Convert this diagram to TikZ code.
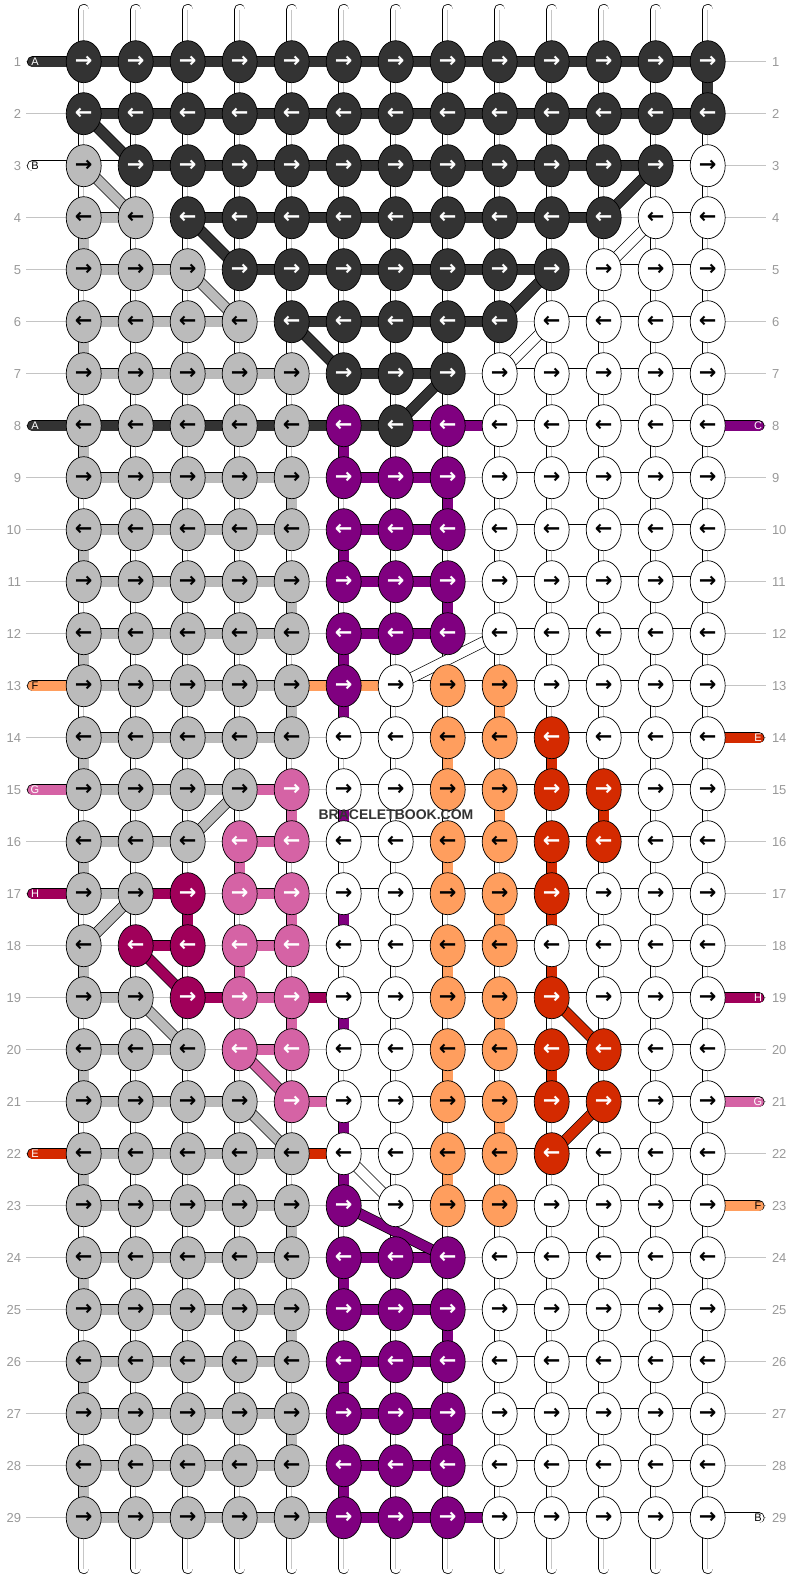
\documentclass[tikz,border=0pt]{standalone}
\usepackage{fontspec}
\setmainfont{Liberation Sans}
\newfontfamily\arrowfont{DejaVu Sans Bold}
\usetikzlibrary{shapes.geometric,backgrounds}

\definecolor{cD}{HTML}{333333}
\definecolor{cG}{HTML}{BBBBBB}
\definecolor{cW}{HTML}{FFFFFF}
\definecolor{cP}{HTML}{800080}
\definecolor{cO}{HTML}{FF9E5E}
\definecolor{cR}{HTML}{D42A00}
\definecolor{cK}{HTML}{D563A5}
\definecolor{cM}{HTML}{A0005A}
\colorlet{tD}{white}
\colorlet{tG}{black}
\colorlet{tW}{black}
\colorlet{tP}{white}
\colorlet{tO}{black}
\colorlet{tR}{white}
\colorlet{tK}{white}
\colorlet{tM}{white}
\definecolor{rowgray}{HTML}{999999}
\definecolor{linegray}{HTML}{C4C4C4}

\begin{document}
\begin{tikzpicture}[x=1pt,y=-1pt,
  knot/.style={ellipse, draw, line width=0.7pt, fill=c#1, text=t#1,
    minimum width=35pt, minimum height=42pt, inner sep=0pt,
    font=\arrowfont\fontsize{21}{21}\selectfont},
  bar/.style={line width=0.7pt, double=c#1, double distance=9.6pt},
  strand/.style={line width=0.7pt, double=white, double distance=9.6pt, line cap=round},
  rowline/.style={draw=linegray, line width=0.8pt},
  rownum/.style={text=rowgray, font=\fontsize{13}{13}\selectfont, inner sep=0pt},
  threadtag/.style={text=t#1, font=\fontsize{11}{11}\selectfont, inner sep=0pt}
]
  \useasboundingbox (0,0) rectangle (792,1580);

  % knots, one row per line
  \foreach \r/\row in {
    1/{D,D,D,D,D,D,D,D,D,D,D,D,D},
    2/{D,D,D,D,D,D,D,D,D,D,D,D,D},
    3/{G,D,D,D,D,D,D,D,D,D,D,D,W},
    4/{G,G,D,D,D,D,D,D,D,D,D,W,W},
    5/{G,G,G,D,D,D,D,D,D,D,W,W,W},
    6/{G,G,G,G,D,D,D,D,D,W,W,W,W},
    7/{G,G,G,G,G,D,D,D,W,W,W,W,W},
    8/{G,G,G,G,G,P,D,P,W,W,W,W,W},
    9/{G,G,G,G,G,P,P,P,W,W,W,W,W},
    10/{G,G,G,G,G,P,P,P,W,W,W,W,W},
    11/{G,G,G,G,G,P,P,P,W,W,W,W,W},
    12/{G,G,G,G,G,P,P,P,W,W,W,W,W},
    13/{G,G,G,G,G,P,W,O,O,W,W,W,W},
    14/{G,G,G,G,G,W,W,O,O,R,W,W,W},
    15/{G,G,G,G,K,W,W,O,O,R,R,W,W},
    16/{G,G,G,K,K,W,W,O,O,R,R,W,W},
    17/{G,G,M,K,K,W,W,O,O,R,W,W,W},
    18/{G,M,M,K,K,W,W,O,O,W,W,W,W},
    19/{G,G,M,K,K,W,W,O,O,R,W,W,W},
    20/{G,G,G,K,K,W,W,O,O,R,R,W,W},
    21/{G,G,G,G,K,W,W,O,O,R,R,W,W},
    22/{G,G,G,G,G,W,W,O,O,R,W,W,W},
    23/{G,G,G,G,G,P,W,O,O,W,W,W,W},
    24/{G,G,G,G,G,P,P,P,W,W,W,W,W},
    25/{G,G,G,G,G,P,P,P,W,W,W,W,W},
    26/{G,G,G,G,G,P,P,P,W,W,W,W,W},
    27/{G,G,G,G,G,P,P,P,W,W,W,W,W},
    28/{G,G,G,G,G,P,P,P,W,W,W,W,W},
    29/{G,G,G,G,G,P,P,P,W,W,W,W,W}}{
    \foreach \k [count=\c] in \row
      \node[knot=\k] (k-\r-\c) at ({83.7+52*(\c-1)},{61.7+52*(\r-1)}) {\ifodd\r\relax →\else ←\fi};
  }

  % row numbers
  \foreach \r in {1,...,29}{
    \node[rownum, anchor=east, outer sep=5pt] (ln-\r) at (26,{61.7+52*(\r-1)}) {\r};
    \node[rownum, anchor=west, outer sep=6pt] (rn-\r) at (766,{61.7+52*(\r-1)}) {\r};
  }

  % thread letters
  \foreach \r/\lab/\k in {1/A/D, 3/B/W, 8/A/D, 13/F/O, 15/G/K, 17/H/M, 22/E/R}
    \node[threadtag=\k] (in-\r) at (35,{61.7+52*(\r-1)}) {\lab};
  \foreach \r/\lab/\k in {8/C/P, 14/E/R, 19/H/M, 21/G/K, 23/F/O, 29/B/W}
    \node[threadtag=\k] (out-\r) at (758,{61.7+52*(\r-1)}) {\lab};

  \node[text=cD, font=\bfseries\fontsize{14}{14}\selectfont] (mark) at (396,815) {BRACELETBOOK.COM};

  \begin{pgfonlayer}{background}
    \fill[white] (0,0) rectangle (792,1580);
    \foreach \r in {1,...,29}
      \draw[rowline] (ln-\r) -- (rn-\r);

    % vertical strings
    \foreach \c in {1,...,13}{
      \coordinate (st-\c) at ({83.7+52*(\c-1)},9.5);
      \coordinate (sb-\c) at ({83.7+52*(\c-1)},1568.5);
      \draw[strand] (st-\c) -- (sb-\c);
      \draw[gray!45, line width=0.5pt] (st-\c) -- (sb-\c);
    }

    % thread ends
    \foreach \r/\k in {1/D, 3/W, 8/D, 13/O, 15/K, 17/M, 22/R}
      \draw[bar=\k, line cap=round] ([xshift=-2.5pt]in-\r.center) -- (k-\r-1.center);
    \foreach \r/\k in {8/P, 14/R, 19/M, 21/K, 23/O, 29/W}
      \draw[bar=\k, line cap=round] (k-\r-13.center) -- ([xshift=1pt]out-\r.center);

    % threads along the rows (- = none)
    \foreach \r/\row in {
      1/{D,D,D,D,D,D,D,D,D,D,D,D},
      2/{D,D,D,D,D,D,D,D,D,D,D,D},
      3/{W,D,D,D,D,D,D,D,D,D,D,W},
      4/{G,-,D,D,D,D,D,D,D,D,-,W},
      5/{G,G,-,D,D,D,D,D,D,-,W,W},
      6/{G,G,G,-,D,D,D,D,-,W,W,W},
      7/{G,G,G,G,-,D,D,-,W,W,W,W},
      8/{D,D,D,D,D,D,P,P,W,W,W,W},
      9/{G,G,G,G,-,P,P,-,W,W,W,W},
      10/{G,G,G,G,-,P,P,-,W,W,W,W},
      11/{G,G,G,G,-,P,P,-,W,W,W,W},
      12/{G,G,G,G,-,P,P,-,W,W,W,W},
      13/{G,G,G,G,O,O,W,W,W,W,W,W},
      14/{G,G,G,G,-,W,W,W,W,W,W,W},
      15/{G,G,G,K,-,W,W,W,W,W,W,W},
      16/{G,G,-,K,-,W,W,W,W,W,W,W},
      17/{G,M,-,K,-,W,W,W,W,W,W,W},
      18/{-,M,-,K,-,W,W,W,W,W,W,W},
      19/{G,-,M,K,M,W,W,W,W,W,W,W},
      20/{G,G,-,K,-,W,W,W,W,W,W,W},
      21/{G,G,G,-,K,W,W,W,W,W,W,W},
      22/{G,G,G,G,R,W,W,W,W,W,W,W},
      23/{G,G,G,G,-,W,W,W,W,W,W,W},
      24/{G,G,G,G,-,P,P,-,W,W,W,W},
      25/{G,G,G,G,-,P,P,-,W,W,W,W},
      26/{G,G,G,G,-,P,P,-,W,W,W,W},
      27/{G,G,G,G,-,P,P,-,W,W,W,W},
      28/{G,G,G,G,-,P,P,-,W,W,W,W},
      29/{G,G,G,G,G,P,P,P,W,W,W,W}}{
      \foreach \h [count=\c] in \row {
        \if\h-\else
          \pgfmathtruncatemacro\n{\c+1}
          \draw[bar=\h] (k-\r-\c.center) -- (k-\r-\n.center);
        \fi
      }
    }

    % threads going down one row
    \foreach \r/\c/\k in {1/13/D,
      4/1/G, 6/1/G, 8/1/G, 10/1/G, 12/1/G, 14/1/G, 16/1/G, 18/1/G, 20/1/G, 22/1/G, 24/1/G, 26/1/G, 28/1/G,
      9/5/G, 11/5/G, 13/5/G, 23/5/G, 25/5/G, 27/5/G,
      8/6/P, 9/8/P, 10/6/P, 11/8/P, 12/6/P, 13/6/P, 15/6/P, 17/6/P, 19/6/P, 21/6/P, 22/6/P,
      24/6/P, 25/8/P, 26/6/P, 27/8/P, 28/6/P,
      13/9/O, 14/8/O, 15/9/O, 16/8/O, 17/9/O, 18/8/O, 19/9/O, 20/8/O, 21/9/O, 22/8/O,
      14/10/R, 15/11/R, 16/10/R, 17/10/R, 18/10/R, 20/10/R,
      15/5/K, 16/4/K, 17/5/K, 18/4/K, 19/5/K,
      17/3/M}{
      \pgfmathtruncatemacro\n{\r+1}
      \draw[bar=\k] (k-\r-\c.center) -- (k-\n-\c.center);
    }

    % threads changing column
    \foreach \ra/\ca/\rb/\cb/\k in {2/1/3/2/D, 3/12/4/11/D, 4/3/5/4/D, 5/10/6/9/D, 6/5/7/6/D, 7/8/8/7/D,
      3/1/4/2/G, 5/3/6/4/G, 15/4/16/3/G, 17/2/18/1/G, 19/2/20/3/G, 21/4/22/5/G,
      4/12/5/11/W, 6/10/7/9/W, 12/9/13/7/W, 22/6/23/7/W,
      18/2/19/3/M, 20/4/21/5/K, 19/10/20/11/R, 21/11/22/10/R, 23/6/24/8/P}
      \draw[bar=\k] (k-\ra-\ca.center) -- (k-\rb-\cb.center);
  \end{pgfonlayer}
\end{tikzpicture}
\end{document}
